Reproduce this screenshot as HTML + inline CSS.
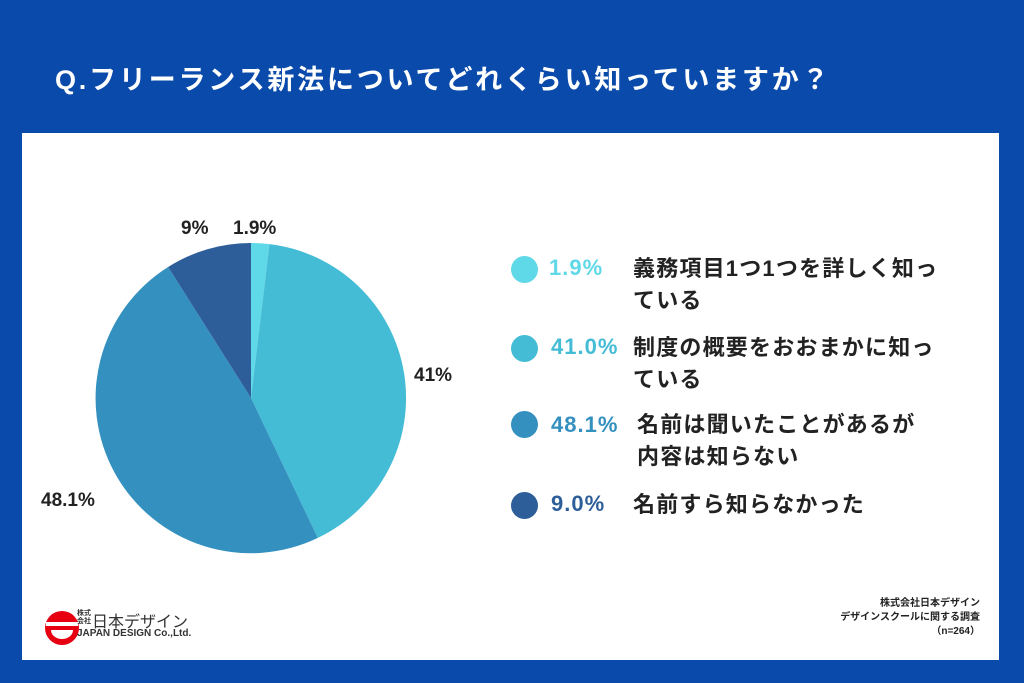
<!DOCTYPE html>
<html><head><meta charset="utf-8"><style>
body{margin:0;width:1024px;height:683px;background:#0a4aaa;position:relative;overflow:hidden;font-family:"Liberation Sans","Noto Sans CJK JP",sans-serif;}
.t{position:absolute;white-space:nowrap;font-weight:bold;}
.panel{position:absolute;left:22px;top:133px;width:977px;height:527px;background:#fff;}
.dot{position:absolute;width:27px;height:27px;border-radius:50%;}
.lg{position:absolute;font-weight:bold;font-size:22px;letter-spacing:1.2px;color:#222;line-height:32px;white-space:nowrap;}
.pct{position:absolute;font-weight:bold;font-size:22px;letter-spacing:1px;white-space:nowrap;}
</style></head><body>
<div class="t" style="left:55px;top:58px;font-size:27px;letter-spacing:2.8px;color:#fff;">Q.フリーランス新法についてどれくらい知っていますか？</div>
<div class="panel"></div>
<svg style="position:absolute;left:0;top:0" width="1024" height="683">
<g transform="translate(251,398)">
<path d="M0,0 L0,-155 A155,155 0 0,1 18.47,-153.9 Z" fill="#5fd8e8"/>
<path d="M0,0 L18.47,-153.9 A155,155 0 0,1 66.8,139.9 Z" fill="#45bcd6"/>
<path d="M0,0 L66.8,139.9 A155,155 0 0,1 -82.9,-131 Z" fill="#3390bf"/>
<path d="M0,0 L-82.9,-131 A155,155 0 0,1 0,-155 Z" fill="#2e5e9a"/>
</g>
<circle cx="62" cy="628" r="17" fill="#e60012"/>
<rect x="46" y="622" width="32" height="4" fill="#fff"/>
<path d="M51,630 h22 a11,9 0 0,1 -22,0z" fill="#fff"/>
</svg>
<div class="t" style="left:181px;top:218px;font-size:19px;color:#222">9%</div>
<div class="t" style="left:233px;top:218px;font-size:19px;color:#222">1.9%</div>
<div class="t" style="left:414px;top:365px;font-size:19px;color:#222">41%</div>
<div class="t" style="left:41px;top:490px;font-size:19px;color:#222">48.1%</div>
<div class="dot" style="left:511px;top:256px;background:#5fd8e8"></div>
<div class="pct" style="left:549px;top:255px;color:#5fd8e8">1.9%</div>
<div class="lg" style="left:633px;top:253px">義務項目1つ1つを詳しく知っ<br>ている</div>
<div class="dot" style="left:511px;top:335px;background:#45bcd6"></div>
<div class="pct" style="left:551px;top:334px;color:#45bcd6">41.0%</div>
<div class="lg" style="left:633px;top:332px">制度の概要をおおまかに知っ<br>ている</div>
<div class="dot" style="left:511px;top:411px;background:#3390bf"></div>
<div class="pct" style="left:551px;top:412px;color:#3390bf">48.1%</div>
<div class="lg" style="left:637px;top:409px">名前は聞いたことがあるが<br>内容は知らない</div>
<div class="dot" style="left:511px;top:492px;background:#2e5e9a"></div>
<div class="pct" style="left:551px;top:491px;color:#2e5e9a">9.0%</div>
<div class="lg" style="left:633px;top:489px">名前すら知らなかった</div>
<div class="t" style="left:77px;top:610px;font-size:7px;color:#333;line-height:8px">株式<br>会社</div>
<div class="t" style="left:92px;top:608px;font-size:16px;color:#333;font-weight:normal">日本デザイン</div>
<div class="t" style="left:77px;top:628px;font-size:10px;color:#333">JAPAN DESIGN Co.,Ltd.</div>
<div class="t" style="left:820px;top:597px;width:160px;text-align:right;font-size:10px;color:#222;line-height:14px">株式会社日本デザイン<br>デザインスクールに関する調査<br>（n=264）</div>
</body></html>
